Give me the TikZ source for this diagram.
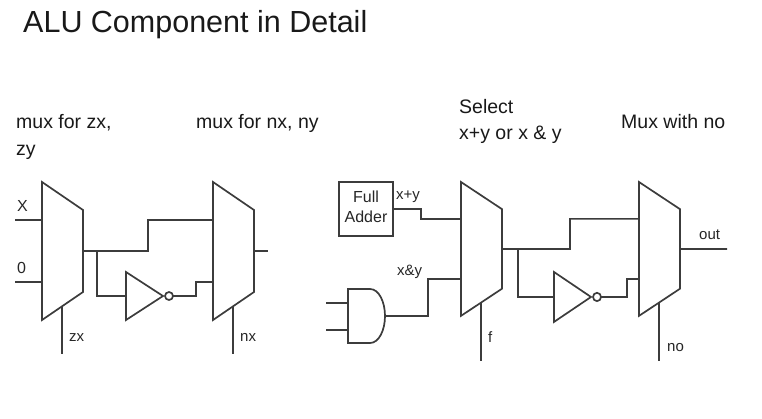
\documentclass[tikz,border=0pt]{standalone}
\usepackage{fontspec}
\setmainfont{Liberation Sans}
\usetikzlibrary{positioning, calc}

\definecolor{wirecol}{HTML}{3C3C3C}
\tikzset{
  wire/.style={draw=wirecol, line width=1.7pt, line join=miter},
  caption/.style={anchor=base west, inner sep=0pt, font=\fontsize{19.5}{22}\selectfont, text=black!90},
  tag/.style={anchor=base west, inner sep=0pt, font=\fontsize{15}{17}\selectfont, text=black!85},
  mux/.pic={
    \draw[wire] (0,0) -- (41,28) -- (41,110) -- (0,138) -- cycle;
    \coordinate (-a) at (0,38);
    \coordinate (-b) at (0,100);
    \coordinate (-out) at (41,69);
    \coordinate (-sel) at (20,124);
  },
  notgate/.pic={
    \draw[wire] (0,0) -- (37,24) -- (0,48) -- cycle;
    \draw[wire] (43,24) circle (4pt);
    \coordinate (-in) at (0,24);
    \coordinate (-out) at (47,24);
  },
}

\begin{document}
\begin{tikzpicture}[x=1pt, y=-1pt]
  \useasboundingbox (0,0) rectangle (762,418);

  \node[anchor=base west, inner sep=0pt, font=\fontsize{30.5}{34}\selectfont, text=black!90] (title) at (23,32) {ALU Component in Detail};

  \node[caption] (capa) at (16,128) {mux for zx,};
  \node[caption] (capb) at (16,155) {zy};
  \node[caption] (capc) at (196,128) {mux for nx, ny};
  \node[caption] (capd) at (459,113) {Select};
  \node[caption] (cape) at (459,139) {x+y or x \& y};
  \node[caption] (capf) at (621,128) {Mux with no};

  % muxes
  \pic (muxa) at (42,182) {mux};
  \pic (muxb) at (213,182) {mux};
  \pic[yscale=.97] (muxc) at (461,182) {mux};
  \pic[yscale=.97] (muxd) at (639,182) {mux};

  % inverters
  \pic (nota) at (126,272) {notgate};
  \pic[yscale=1.04] (notb) at (554,272) {notgate};

  % full adder
  \node[wire, minimum width=54pt, minimum height=54pt, inner sep=0pt] (adder) at (366,209) {};
  \node[inner sep=0pt, align=center, font=\fontsize{16}{20}\selectfont, text=black!85] (addertext) at (366,207) {Full\\Adder};

  % and gate
  \draw[wire] (348,289) -- (370,289) .. controls (379,289) and (385,302) .. (385,316)
    .. controls (385,330) and (379,343) .. (370,343) -- (348,343) -- cycle;
  \coordinate (andout) at (385,316);
  \coordinate (andina) at (348,303);
  \coordinate (andinb) at (348,330);

  % free ends
  \coordinate (xin) at (15,220);
  \coordinate (zeroin) at (15,282);
  \coordinate (zxend) at (62,354);
  \coordinate (nxend) at (233,354);
  \coordinate (fend) at (481,361);
  \coordinate (noend) at (659,361);
  \coordinate (nxout) at (268,251);
  \coordinate (outend) at (727,249);
  \coordinate (anda) at (326,303);
  \coordinate (andb) at (326,330);

  % first half
  \draw[wire] (xin) -- (muxa-a);
  \draw[wire] (zeroin) -- (muxa-b);
  \draw[wire] (muxa-sel) -- (zxend);
  \draw[wire] (muxb-sel) -- (nxend);
  \draw[wire] (muxa-out) -- (148,251) |- (muxb-a);
  \draw[wire] (97,251) |- (nota-in);
  \draw[wire] (nota-out) -- (196,296) |- (muxb-b);
  \draw[wire] (muxb-out) -- (nxout);

  % second half
  \draw[wire] (adder.east) -- (421,209) |- (muxc-a);
  \draw[wire] (andout) -- (428,316) |- (muxc-b);
  \draw[wire] (anda) -- (andina);
  \draw[wire] (andb) -- (andinb);
  \draw[wire] (muxc-sel) -- (fend);
  \draw[wire] (muxc-out) -- (570,249) |- (muxd-a);
  \draw[wire] (518,249) |- (notb-in);
  \draw[wire] (notb-out) -- (627,297) |- (muxd-b);
  \draw[wire] (muxd-sel) -- (noend);
  \draw[wire] (muxd-out) -- (outend);

  % signal names
  \node[tag, font=\fontsize{16}{18}\selectfont] (xlab) at (17,211) {X};
  \node[tag, font=\fontsize{16}{18}\selectfont] (zerolab) at (17,273) {0};
  \node[tag] (zxlab) at (69,341) {zx};
  \node[tag] (nxlab) at (240,341) {nx};
  \node[tag] (xylab) at (396,199) {x+y};
  \node[tag] (andlab) at (397,275) {x\&y};
  \node[tag] (flab) at (488,342) {f};
  \node[tag] (nolab) at (667,351) {no};
  \node[tag] (outlab) at (699,239) {out};
\end{tikzpicture}
\end{document}
